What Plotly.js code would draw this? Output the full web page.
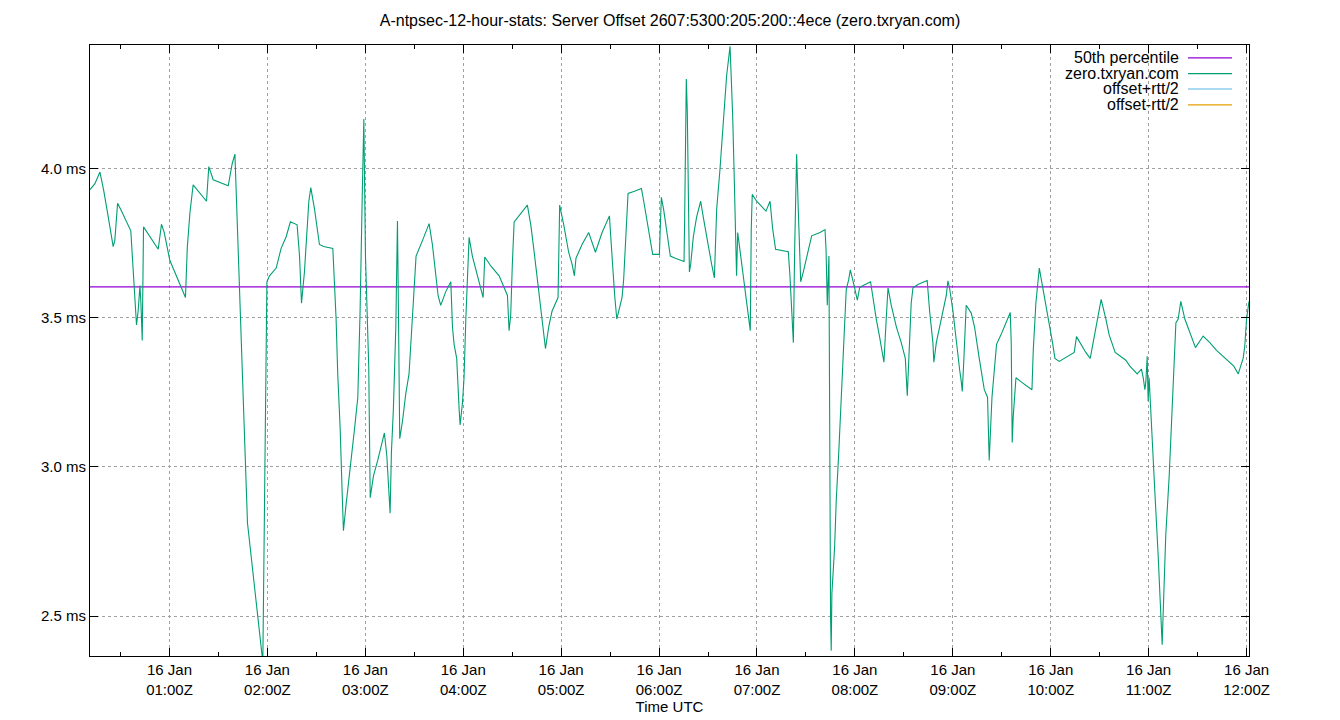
<!DOCTYPE html>
<html>
<head>
<meta charset="utf-8">
<script src="https://cdn.plot.ly/plotly-3.0.1.min.js"></script>
<style>
  body { margin: 0; background: #fff; }
  #chart { width: 1340px; height: 720px; }
</style>
</head>
<body>
<div id="chart"></div>
<script>
// minutes after 00:00Z, 16 Jan
const sampleMinutes = [
  11.3, 14.3, 17.4, 19.8, 22.5, 25.5, 26.5, 28.2, 30.6, 36.3, 37.4, 38.8, 39.8, 40.8, 41.9, 42.5, 43.3, 44.1, 48.0, 53.1,
  55.1, 56.8, 60.2, 63.3, 69.8, 70.9, 72.5, 74.5, 82.7, 84.1, 86.8, 96.0, 98.4, 100.1,
  107.8, 117.2, 119.7, 121.3, 125.4, 128.4, 131.5, 134.1, 138.2, 139.7, 140.9, 142.7, 144.2, 145.4, 146.6, 148.9, 151.9, 154.4, 160.1, 161.3,
  162.1, 163.1, 164.6, 165.8, 166.6, 168.3, 170.3, 173.4, 175.4, 176.8, 178.1, 179.1, 180.1, 180.9, 182.1, 183.0, 185.0, 187.6, 191.7,
  193.2, 194.4, 195.2, 196.0, 197.2, 198.7, 199.3, 199.7, 200.1, 200.7, 201.1, 202.8, 204.8, 206.8, 208.9, 210.3, 211.1, 215.0, 219.1, 221.1,
  223.2, 224.6, 226.2, 229.3, 232.4, 233.4, 234.4, 236.0, 237.5, 238.1, 239.5, 240.5, 241.6, 242.6, 243.6, 245.6, 249.7, 252.2, 253.2, 256.9,
  262.0, 265.0, 267.1, 268.1, 269.1, 270.1, 271.2, 279.3, 281.4,
  283.2, 284.6, 285.9, 287.3, 288.7, 290.4, 292.4, 294.4, 298.1, 298.5, 299.1, 301.6, 304.6, 306.7, 308.1, 309.1, 312.8, 316.9, 321.0, 325.1,
  329.6, 330.4, 331.6, 332.8, 334.1, 335.7, 337.3, 338.3, 339.4, 341.0, 344.5, 349.2, 350.6, 352.6, 354.7, 356.1, 360.2, 361.4, 362.8, 364.9,
  366.9, 370.0, 374.1,
  375.3, 375.7, 376.1, 376.7, 377.3, 377.7, 378.6, 379.4, 381.0, 383.0, 385.5, 387.1, 390.2, 392.2, 393.9, 394.5, 395.3, 397.3, 399.4, 401.4,
  403.5, 403.9, 405.1, 406.1, 406.7, 407.5, 408.2, 409.6, 411.6, 413.7, 414.9, 415.9, 416.5, 417.1, 419.8, 425.5, 428.0, 429.6, 431.4, 439.2,
  440.2, 441.4, 442.3, 443.1, 443.7, 444.3, 445.3, 446.8, 448.4, 451.5, 453.5, 458.6, 461.7, 462.3, 463.1,
  464.1, 464.5, 465.1, 465.5, 465.9, 467.6, 468.6, 470.0, 471.7, 472.7, 473.7, 474.7, 476.2, 477.2, 479.8, 481.5, 482.9, 483.9, 489.6, 491.1,
  493.1, 495.1, 497.8, 499.2, 500.3, 502.3, 505.4, 508.4, 510.9, 512.1, 513.5, 514.5, 515.6, 518.6, 524.3, 525.8, 527.8, 528.4, 529.9, 532.9,
  536.0, 537.0, 538.0, 540.1, 542.1, 544.2, 545.2, 545.8, 546.8, 547.6, 548.2, 551.3, 553.3,
  556.2, 559.3, 561.3, 562.3, 564.0, 565.4, 566.8, 569.5, 575.2, 575.8, 576.4, 577.0, 578.7, 581.7, 588.5, 589.3, 590.9, 593.0, 595.0, 598.1,
  601.1, 602.6, 605.2, 608.3, 614.4, 615.8, 618.5, 621.5, 624.2, 627.7, 630.9, 633.8, 635.8, 639.5, 643.0, 646.0,
  648.5, 653.0, 655.6, 656.7, 657.7, 658.3, 659.1, 659.7, 660.3, 661.8, 663.8, 665.8, 667.3, 668.3, 668.9, 670.5, 672.6, 675.0, 676.7, 678.1,
  679.7, 682.2, 686.3, 688.7, 693.4, 697.5, 701.6, 705.7, 709.3, 712.2, 714.9, 717.9, 718.9, 720.0, 721.5
];
const offsetMs = [
  3.930, 3.950, 3.989, 3.924, 3.838, 3.739, 3.759, 3.884, 3.858, 3.792, 3.693, 3.575, 3.476, 3.522, 3.608, 3.549, 3.424, 3.805, 3.772, 3.730,
  3.814, 3.786, 3.693, 3.654, 3.568, 3.733, 3.851, 3.946, 3.891, 4.007, 3.963, 3.943, 4.016, 4.049,
  2.812, 2.345, 3.621, 3.641, 3.667, 3.733, 3.772, 3.822, 3.812, 3.707, 3.549, 3.654, 3.786, 3.891, 3.937, 3.864, 3.746, 3.739, 3.733, 3.614,
  3.496, 3.312, 3.128, 2.917, 2.786, 2.878, 2.970, 3.128, 3.233, 3.522, 3.904, 4.167, 3.707, 3.522, 3.338, 2.897, 2.970, 3.022, 3.114,
  3.036, 2.917, 2.845, 3.049, 3.193, 3.470, 3.753, 3.825, 3.628, 3.272, 3.095, 3.154, 3.246, 3.312, 3.496, 3.601, 3.707, 3.759, 3.816, 3.746,
  3.654, 3.575, 3.542, 3.588, 3.621, 3.470, 3.411, 3.364, 3.193, 3.141, 3.213, 3.299, 3.496, 3.654, 3.770, 3.707, 3.614, 3.568, 3.704, 3.674,
  3.641, 3.601, 3.575, 3.457, 3.509, 3.680, 3.822, 3.878, 3.812,
  3.733, 3.667, 3.601, 3.536, 3.470, 3.397, 3.470, 3.522, 3.568, 3.733, 3.878, 3.812, 3.720, 3.680, 3.641, 3.700, 3.746, 3.786, 3.720, 3.786,
  3.842, 3.772, 3.667, 3.575, 3.496, 3.536, 3.568, 3.628, 3.759, 3.917, 3.924, 3.934, 3.891, 3.825, 3.759, 3.713, 3.713, 3.904, 3.864, 3.786,
  3.707, 3.700, 3.693,
  3.689, 3.838, 4.147, 4.301, 4.193, 3.976, 3.654, 3.680, 3.772, 3.838, 3.891, 3.838, 3.733, 3.680, 3.634, 3.733, 3.864, 3.996, 4.154, 4.312,
  4.411, 4.358, 4.180, 3.963, 3.838, 3.641, 3.786, 3.726, 3.641, 3.549, 3.496, 3.457, 3.799, 3.914, 3.891, 3.858, 3.891, 3.799, 3.730, 3.722,
  3.641, 3.522, 3.417, 3.733, 3.943, 4.049, 3.864, 3.621, 3.654, 3.733, 3.775, 3.786, 3.796, 3.733, 3.542,
  3.707, 3.049, 2.496, 2.384, 2.575, 2.733, 2.891, 3.036, 3.259, 3.391, 3.522, 3.595, 3.628, 3.661, 3.601, 3.559, 3.601, 3.605, 3.621, 3.562,
  3.496, 3.437, 3.351, 3.496, 3.601, 3.542, 3.470, 3.417, 3.364, 3.239, 3.417, 3.549, 3.601, 3.612, 3.625, 3.522, 3.417, 3.351, 3.417, 3.496,
  3.575, 3.624, 3.601, 3.522, 3.417, 3.325, 3.286, 3.253, 3.364, 3.496, 3.542, 3.516, 3.470,
  3.364, 3.259, 3.233, 3.022, 3.233, 3.338, 3.411, 3.443, 3.518, 3.417, 3.082, 3.167, 3.299, 3.286, 3.259, 3.391, 3.549, 3.667, 3.601, 3.509,
  3.417, 3.364, 3.354, 3.364, 3.384, 3.437, 3.411, 3.384, 3.364, 3.470, 3.562, 3.496, 3.443, 3.384, 3.371, 3.358,
  3.338, 3.312, 3.328, 3.299, 3.259, 3.286, 3.371, 3.220, 3.299, 3.114, 2.917, 2.707, 2.496, 2.404, 2.509, 2.772, 2.970, 3.259, 3.483, 3.496,
  3.555, 3.496, 3.437, 3.400, 3.439, 3.417, 3.391, 3.371, 3.351, 3.338, 3.312, 3.364, 3.404, 3.496, 3.555
];
const medianMs = 3.604;

const tickHours = [1, 2, 3, 4, 5, 6, 7, 8, 9, 10, 11, 12];
const tickLabels = [
  '16 Jan<br>01:00Z', '16 Jan<br>02:00Z', '16 Jan<br>03:00Z', '16 Jan<br>04:00Z',
  '16 Jan<br>05:00Z', '16 Jan<br>06:00Z', '16 Jan<br>07:00Z', '16 Jan<br>08:00Z',
  '16 Jan<br>09:00Z', '16 Jan<br>10:00Z', '16 Jan<br>11:00Z', '16 Jan<br>12:00Z'
];
const minorHours = [0.5, 1.5, 2.5, 3.5, 4.5, 5.5, 6.5, 7.5, 8.5, 9.5, 10.5, 11.5];
const yTicks = [2.5, 3.0, 3.5, 4.0];
const yTickLabels = ['2.5 ms', '3.0 ms', '3.5 ms', '4.0 ms'];
const seriesNames = ['50th percentile', 'zero.txryan.com', 'offset+rtt/2', 'offset-rtt/2'];
const seriesColors = ['#9400d3', '#009e73', '#56b4e9', '#e69f00'];

const DAY_START = Date.UTC(2025, 0, 16);
const toTime = m => DAY_START + m * 60000;
const times = sampleMinutes.map(toTime);
const xRange = [times[0], times[times.length - 1]];

const FONT = 'Liberation Sans, Arial, sans-serif';

const data = [
  {
    x: xRange,
    y: [medianMs, medianMs],
    name: seriesNames[0],
    mode: 'lines',
    line: { color: seriesColors[0], width: 1.2 },
    hoverinfo: 'skip',
  },
  {
    x: times,
    y: offsetMs,
    name: seriesNames[1],
    mode: 'lines',
    line: { color: seriesColors[1], width: 1.1 },
  },
];

// gnuplot style key: text right aligned, sample on the right
const keyRows = [0.979, 0.953, 0.928, 0.902];
const annotations = seriesNames.map((name, i) => ({
  text: name,
  xref: 'paper', yref: 'paper',
  x: 0.9412, y: keyRows[i],
  xanchor: 'right', yanchor: 'middle',
  showarrow: false,
  font: { family: FONT, size: 16, color: '#000' },
}));
const shapes = seriesNames.map((name, i) => ({
  type: 'line',
  xref: 'paper', yref: 'paper',
  x0: 0.9474, x1: 0.9853, y0: keyRows[i], y1: keyRows[i],
  line: { color: seriesColors[i], width: 1.2 },
}));

const layout = {
  width: 1340,
  height: 720,
  margin: { l: 90, r: 91, t: 45, b: 64 },
  paper_bgcolor: '#fff',
  plot_bgcolor: '#fff',
  font: { family: FONT, size: 15, color: '#000' },
  showlegend: false,
  title: {
    text: 'A-ntpsec-12-hour-stats: Server Offset 2607:5300:205:200::4ece (zero.txryan.com)',
    x: 0.5,
    xanchor: 'center',
    y: 0.971,
    yanchor: 'middle',
    font: { family: FONT, size: 16, color: '#000' },
  },
  xaxis: {
    type: 'date',
    range: xRange,
    tickmode: 'array',
    tickvals: tickHours.map(h => toTime(h * 60)),
    ticktext: tickLabels,
    ticks: 'inside',
    ticklen: 8,
    tickcolor: '#000',
    showline: true,
    linecolor: '#000',
    linewidth: 1,
    mirror: 'allticks',
    showgrid: true,
    gridcolor: '#a0a0a0',
    griddash: 'dot',
    gridwidth: 1,
    zeroline: false,
    minor: {
      tickmode: 'array',
      tickvals: minorHours.map(h => toTime(h * 60)),
      ticks: 'inside',
      ticklen: 4,
      tickcolor: '#000',
      showgrid: false,
    },
    tickfont: { family: FONT, size: 15, color: '#000' },
    title: { text: 'Time UTC', font: { family: FONT, size: 15, color: '#000' }, standoff: 4 },
  },
  yaxis: {
    range: [2.366, 4.415],
    tickmode: 'array',
    tickvals: yTicks,
    ticktext: yTickLabels,
    ticks: 'inside',
    ticklen: 8,
    tickcolor: '#000',
    showline: true,
    linecolor: '#000',
    linewidth: 1,
    mirror: 'allticks',
    showgrid: true,
    gridcolor: '#a0a0a0',
    griddash: 'dot',
    gridwidth: 1,
    zeroline: false,
    tickfont: { family: FONT, size: 15, color: '#000' },
  },
  annotations: annotations,
  shapes: shapes,
};

Plotly.newPlot('chart', data, layout, { displayModeBar: false, staticPlot: true });
</script>
</body>
</html>
